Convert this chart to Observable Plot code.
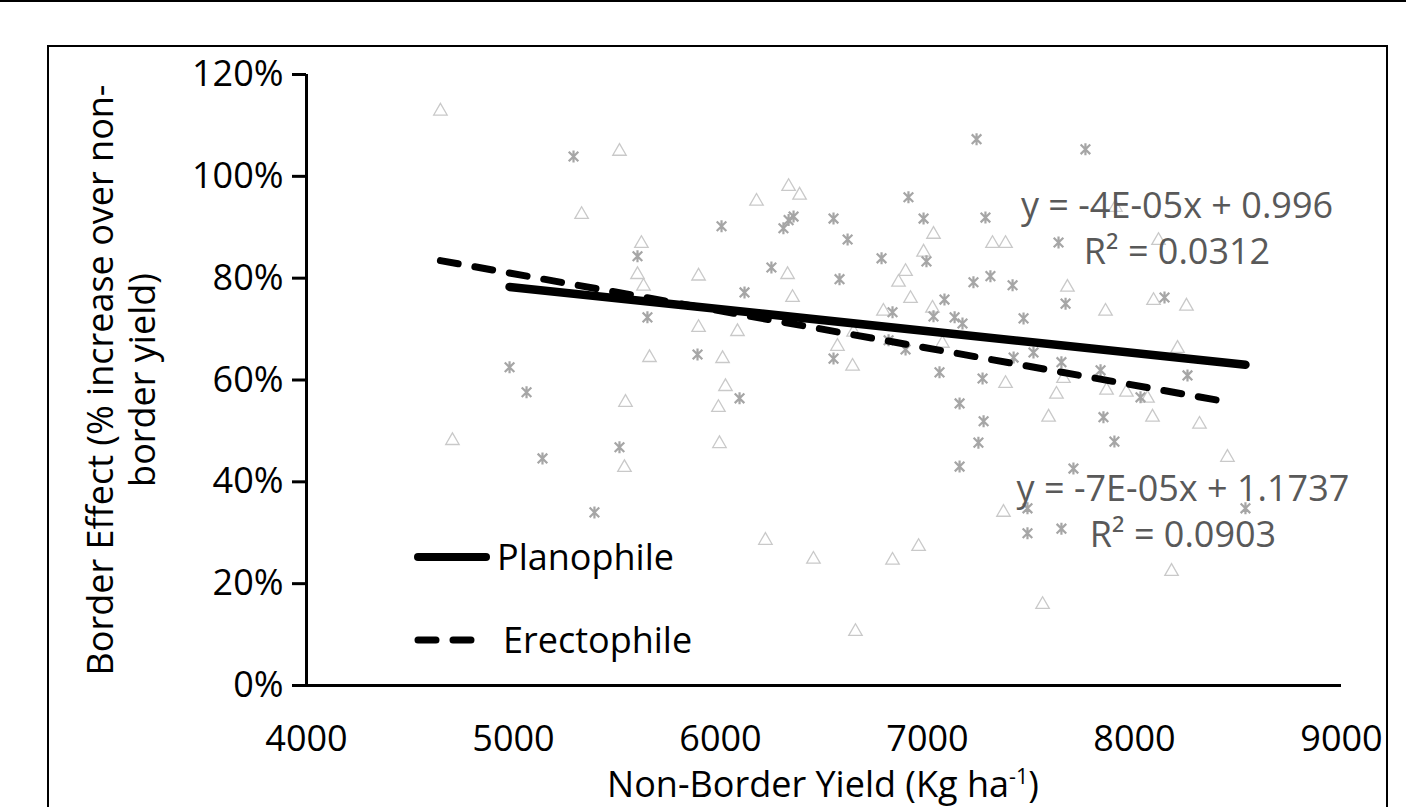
<!DOCTYPE html>
<html><head><meta charset="utf-8">
<script src="https://cdn.jsdelivr.net/npm/d3@7"></script>
<script src="https://cdn.jsdelivr.net/npm/@observablehq/plot@0.6"></script>
<style>
body{margin:0;background:#fff;}
#wrap{position:relative;width:1406px;height:807px;overflow:hidden;font-family:"Open Sans",sans-serif;color:#000;}
#topline{position:absolute;left:0;top:0;width:1406px;height:2px;background:#000;}
#frame{position:absolute;left:47px;top:45px;width:1337px;height:800px;border:2px solid #000;}
#chart{position:absolute;left:0;top:0;}
.ov{position:absolute;white-space:nowrap;font-size:36px;line-height:1;}
.eq{color:#595959;text-align:center;transform:translateX(-50%);line-height:46px;}
#ytitle{left:121px;top:380px;transform:translate(-50%,-50%) rotate(-90deg);text-align:center;line-height:42px;}
#xtitle{left:823px;top:765px;transform:translateX(-50%);}
.leg{display:flex;align-items:center;}
</style></head>
<body>
<div id="wrap">
  <div id="topline"></div>
  <div id="frame"></div>
  <div id="chart"></div>
</div>
<script>
// Planophile (star markers)
const planoYield = [4981,5063,5140,5290,5391,5512,5599,5647,5889,6005,6092,6116,6246,6304,6329,6353,6546,6546,6575,6614,6778,6812,6831,6894,6908,6981,6995,7029,7058,7082,7131,7155,7155,7169,7237,7246,7222,7266,7271,7280,7304,7411,7416,7464,7483,7483,7512,7633,7647,7647,7667,7705,7763,7836,7850,7903,8029,8145,8256,8536];
const planoEffect = [0.625,0.576,0.446,1.039,0.340,0.468,0.843,0.723,0.650,0.902,0.564,0.772,0.821,0.898,0.914,0.921,0.917,0.642,0.798,0.876,0.839,0.678,0.733,0.660,0.959,0.917,0.833,0.725,0.615,0.758,0.723,0.554,0.430,0.711,1.073,0.477,0.792,0.603,0.519,0.919,0.804,0.786,0.644,0.721,0.348,0.299,0.654,0.870,0.635,0.308,0.750,0.426,1.053,0.619,0.527,0.479,0.566,0.762,0.609,0.348];
// Erectophile (triangle markers)
const erectoYield = [4647,4705,5329,5512,5536,5541,5618,5599,5628,5657,5894,5894,5990,5995,6010,6024,6082,6174,6217,6324,6329,6348,6382,6449,6565,6638,6643,6652,6787,6831,6860,6894,6918,6957,6981,7024,7029,7072,7314,7377,7377,7367,7556,7585,7623,7657,7676,7860,7865,7908,7961,8063,8087,8092,8116,8179,8208,8251,8314,8449];
const erectoEffect = [1.128,0.481,0.925,1.049,0.428,0.556,0.868,0.807,0.784,0.644,0.804,0.703,0.546,0.475,0.642,0.587,0.695,0.951,0.285,0.807,0.980,0.762,0.963,0.248,0.666,0.627,0.694,0.106,0.735,0.246,0.792,0.813,0.760,0.273,0.851,0.741,0.886,0.672,0.868,0.868,0.593,0.340,0.159,0.527,0.572,0.603,0.782,0.735,0.580,0.939,0.576,0.564,0.527,0.756,0.874,0.224,0.662,0.745,0.513,0.448];
const seriesNames = ["Planophile","Erectophile"];
const trendSlopes = [-4.3e-5,-7.3e-5];
const trendIntercepts = [0.997,1.1737];
const eqLabels = ["y = -4E-05x + 0.996","y = -7E-05x + 1.1737"];
const r2Labels = ["R² = 0.0312","R² = 0.0903"];
const xTicks = [4000,5000,6000,7000,8000,9000];
const yTicks = [0,0.2,0.4,0.6,0.8,1.0,1.2];

const plano = planoYield.map((x,i)=>({x, y: planoEffect[i]}));
const erecto = erectoYield.map((x,i)=>({x, y: erectoEffect[i]}));
function trend(xs, k){
  const e = d3.extent(xs);
  return e.map(x=>({x, y: trendSlopes[k]*x + trendIntercepts[k]}));
}
const planoTrend = trend(planoYield,0);
const erectoTrend = trend(erectoYield,1);

// Excel-like star marker: X with a vertical bar
const starSymbol = {
  draw(context, size){
    const s = Math.sqrt(size/Math.PI);
    const a = s*0.8;
    context.moveTo(-a,-a); context.lineTo(a,a);
    context.moveTo(-a,a); context.lineTo(a,-a);
    context.moveTo(0,-s); context.lineTo(0,s);
  }
};

const plot = Plot.plot({
  width:1406, height:807,
  marginLeft:306, marginRight:65, marginTop:74, marginBottom:122,
  style:{fontSize:"36px", fontFamily:"'Open Sans', sans-serif", color:"#000", background:"transparent", overflow:"visible"},
  x:{domain:[4000,9000], label:null},
  y:{domain:[0,1.2], label:null},
  marks:[
    Plot.axisY({ticks:yTicks, tickSize:14, tickPadding:9, label:null, tickFormat:d=>Math.round(d*100)+"%", strokeWidth:3}),
    Plot.axisX({ticks:xTicks, tickSize:0, tickPadding:40, label:null, tickFormat:d=>String(d)}),
    Plot.dot(erecto,{x:"x", y:"y", symbol:"triangle", r:5, stroke:"#c9c9c9", fill:"none", strokeWidth:1.3}),
    Plot.dot(plano,{x:"x", y:"y", symbol:starSymbol, r:6, stroke:"#a6a6a6", strokeWidth:2.2}),
    Plot.line(planoTrend,{x:"x", y:"y", stroke:"#000", strokeWidth:8.5, strokeLinecap:"round"}),
    Plot.line(erectoTrend,{x:"x", y:"y", stroke:"#000", strokeWidth:7, strokeDasharray:"18,17", strokeLinecap:"round"}),
    Plot.ruleX([4000],{stroke:"#000", strokeWidth:3}),
    Plot.ruleY([0],{stroke:"#000", strokeWidth:3})
  ]
});
document.getElementById("chart").appendChild(plot);

const wrap = document.getElementById("wrap");
function add(html, cls, css){
  const d = document.createElement("div");
  d.className = "ov " + cls;
  d.innerHTML = html;
  Object.assign(d.style, css||{});
  wrap.appendChild(d);
  return d;
}
// equations
add(eqLabels[0] + "<br>" + r2Labels[0], "eq", {left:"1177px", top:"182px"});
add(eqLabels[1] + "<br>" + r2Labels[1], "eq", {left:"1183px", top:"465px"});
// axis titles
const yt = add("Border Effect (% increase over non-<br>border yield)", "", {});
yt.id = "ytitle";
const xt = add("Non-Border Yield (Kg ha<sup style='font-size:0.6em'>-1</sup>)", "", {});
xt.id = "xtitle";
// legend
const dashes = ["", "18,17"];
seriesNames.forEach((name,i)=>{
  const sw = `<svg width="80" height="12" style="margin-right:${i?10:4}px"><line x1="5" y1="6" x2="73" y2="6" stroke="#000" stroke-width="${i?7:8}" stroke-linecap="round" ${dashes[i]?`stroke-dasharray="${dashes[i]}"`:""}/></svg>`;
  add(sw + "<span>" + name + "</span>", "leg", {left:"413px", top:(i? 622:539)+"px"});
});
</script>
</body></html>
